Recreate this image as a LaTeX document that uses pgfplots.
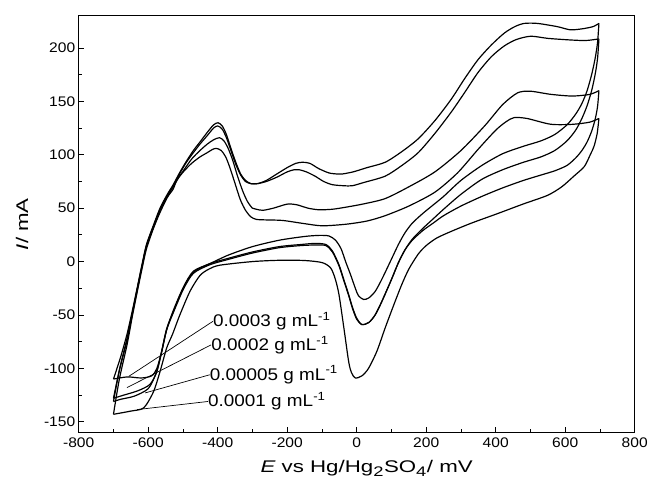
\documentclass[border=0pt]{standalone}
\usepackage{fontspec}
\setmainfont{Liberation Sans}[FakeStretch=1.12]
\newfontfamily\labelfont{Liberation Sans}[FakeStretch=1.32]
\usepackage{pgfplots}
\pgfplotsset{compat=1.18}
\usetikzlibrary{calc}

\begin{document}
\begin{tikzpicture}
\begin{axis}[
  scale only axis, width=558bp, height=418bp,
  xmin=-800, xmax=800, ymin=-160, ymax=230,
  xtick={-800,-600,...,800}, ytick={-150,-100,...,200},
  minor x tick num=1, minor y tick num=1,
  xtick pos=lower, ytick pos=left, tick align=inside,
  major tick length=5bp, minor tick length=3bp,
  axis line style={line width=1.1pt}, every tick/.style={line width=0.9pt, black},
  tick label style={font=\fontsize{14}{16}\selectfont},
  xticklabel style={yshift=-2bp},
  /pgf/number format/assume math mode=true,
  /pgf/number format/1000 sep={},
  xlabel={\labelfont\fontsize{17}{20}\selectfont{\itshape E} vs Hg/Hg\textsubscript{\fontsize{14}{14}\selectfont 2}SO\textsubscript{\fontsize{14}{14}\selectfont 4}/ mV},
  ylabel={\labelfont\fontsize{17}{20}\selectfont{\itshape I}/ mA},
  xlabel style={yshift=-6bp, xshift=10bp}, ylabel style={yshift=9bp},
  cycle list={{black, solid}},
  every axis plot/.append style={line width=1.2pt, smooth, tension=0.45, no marks},
]
% curve A: upper, lower branch
\addplot coordinates {(-700,-110) (-680,-90) (-661,-68) (-645,-45) (-632,-25) (-618,-3) (-605,16) (-585,34) (-566,50) (-545,63) (-528,72) (-510,83) (-490,94) (-470,104) (-451,112) (-430,121) (-412,128) (-399,130) (-387,127) (-375,119) (-362,106) (-348,93) (-334,82) (-320,76) (-305,73) (-285,73) (-260,76) (-230,82) (-200,88) (-175,92) (-156,93) (-135,92) (-109,87) (-80,83) (-56,82) (-42,82) (-10,84) (30,88) (82,93) (130,103) (177,115) (225,132) (272,152) (310,171) (349,189) (388,203) (425,214) (455,220) (482,223) (520,223) (577,220) (615,217) (650,218) (680,220) (697,223)};
\addplot coordinates {(697,223) (693,205) (686,190) (676,175) (663,160) (648,148) (630,138) (605,128) (570,119) (530,113) (480,108) (420,101) (360,90) (300,76) (250,61) (220,53) (190,45) (160,36) (139,27) (120,16) (101,3) (85,-8) (70,-18) (53,-28) (35,-34) (20,-35.5) (5,-32) (-4,-25) (-18,-12) (-32,0) (-45,12) (-61,20) (-80,24) (-109,24.5) (-150,23.5) (-223,20) (-300,14) (-370,6) (-423,-2) (-470,-9) (-499,-24) (-528,-46) (-547,-64) (-562,-85) (-575,-100) (-590,-107) (-620,-109) (-660,-108) (-700,-110)};
% curve B
\addplot coordinates {(-700,-128) (-682,-100) (-661,-72) (-645,-47) (-632,-26) (-618,-4) (-605,15) (-585,33) (-566,49) (-545,62) (-528,71) (-510,82) (-490,93) (-470,102) (-451,110) (-430,118) (-412,125) (-400,127) (-387,124) (-375,116) (-362,104) (-348,91) (-334,81) (-320,75) (-305,73) (-285,73) (-260,75) (-230,79) (-200,84) (-180,86) (-166,86) (-145,84) (-120,80) (-95,75) (-70,72) (-37,71) (-13,71) (20,74) (82,80) (130,90) (177,102) (225,120) (272,140) (310,158) (349,177) (388,192) (425,202) (460,208) (501,211) (550,209) (615,207.5) (660,207) (697,208.5)};
\addplot coordinates {(697,208.5) (693,190) (686,175) (676,160) (663,146) (648,134) (630,123) (605,113) (570,104) (530,98) (480,93) (420,86) (360,77) (300,63) (250,49) (220,40) (190,31) (160,21) (139,11) (120,-1) (101,-16) (85,-28) (70,-39) (53,-50) (35,-57) (15,-59) (0,-53) (-12,-43) (-23,-31) (-37,-17) (-51,-3) (-70,10) (-89,16) (-120,17) (-160,16) (-223,14) (-300,9) (-370,3) (-423,-2) (-470,-10) (-499,-25) (-528,-47) (-547,-63) (-562,-85) (-575,-103) (-595,-115) (-630,-121) (-670,-125) (-700,-128)};
% curve C
\addplot coordinates {(-700,-131) (-683,-102) (-661,-74) (-645,-48) (-632,-27) (-618,-5) (-605,14) (-585,32) (-566,48) (-545,61) (-528,70) (-510,80) (-499,85) (-475,96) (-451,104) (-430,110) (-412,114) (-395,116) (-382,113) (-370,106) (-357,95) (-343,80) (-328,66) (-314,56) (-300,50) (-289,49) (-270,48) (-240,50) (-210,53) (-194,54) (-170,53) (-140,50) (-109,48.5) (-70,49) (-30,51) (20,54) (82,59) (150,70) (225,84) (300,104) (368,127) (420,147) (463,158) (500,159.5) (558,156.6) (620,155) (670,156.5) (697,160)};
\addplot coordinates {(697,160) (693,145) (686,133) (676,122) (663,112) (648,104) (630,97) (605,90) (570,85) (530,81) (480,76) (420,69) (360,61) (300,52) (250,43) (220,36) (190,29) (160,20) (139,11) (120,-1) (101,-16) (85,-28) (70,-39) (53,-50) (35,-57) (15,-59) (0,-54) (-12,-44) (-23,-32) (-37,-18) (-51,-4) (-70,9) (-89,15) (-120,15.5) (-160,15) (-223,13) (-300,8) (-370,2) (-423,-3) (-470,-11) (-499,-26) (-528,-48) (-547,-64) (-562,-86) (-578,-105) (-600,-119) (-640,-126) (-680,-129) (-700,-131)};
% curve D
\addplot coordinates {(-700,-143) (-683,-110) (-661,-78) (-645,-50) (-632,-29) (-618,-7) (-605,12) (-585,31) (-566,46) (-545,60) (-528,68) (-518,76) (-499,84) (-475,92) (-451,98) (-430,102) (-415,105) (-404,106) (-390,104) (-377,98) (-365,88) (-350,73) (-335,58) (-320,48) (-305,42) (-289,39.5) (-260,39) (-213,38.5) (-150,35.5) (-99,33.5) (-30,35) (30,38) (82,43) (150,52) (225,65) (290,83) (349,105) (400,123) (430,131) (453,134.8) (490,134) (558,128.6) (620,128.5) (670,130.5) (697,134)};
\addplot coordinates {(697,134) (692,120) (683,108) (672,100) (655,89) (625,80) (590,70) (549,62) (480,54) (406,45) (330,36) (270,28) (230,22) (200,15) (177,7) (150,-7) (129,-22) (105,-42) (82,-62) (58,-84) (34,-100) (15,-107) (-4,-109) (-15,-104) (-23,-94) (-37,-62) (-51,-31) (-62,-16) (-75,-6) (-99,-1) (-150,1) (-223,1.2) (-300,0) (-394,-3.4) (-425,-7) (-451,-13) (-480,-28) (-509,-50) (-530,-68) (-547,-81) (-566,-103) (-585,-122) (-613,-137) (-650,-140) (-700,-143)};

% labels
\begin{scope}[line width=0.7pt]
\draw (axis cs:-414,-56) -- (axis cs:-656,-107.5);
\draw (axis cs:-419,-78) -- (axis cs:-661,-118);
\draw (axis cs:-423,-106) -- (axis cs:-609,-123);
\draw (axis cs:-428,-131) -- (axis cs:-632,-138.6);
\end{scope}
\begin{scope}[every node/.style={anchor=west, inner sep=0pt, font=\fontsize{17}{19}\selectfont}]
\node at (axis cs:-414,-56) {0.0003 g mL\textsuperscript{-1}};
\node at (axis cs:-419,-78) {0.0002 g mL\textsuperscript{-1}};
\node at (axis cs:-423,-106) {0.00005 g mL\textsuperscript{-1}};
\node at (axis cs:-428,-131) {0.0001 g mL\textsuperscript{-1}};
\end{scope}
\end{axis}
\path ($(current axis.south west)+(-79bp,-54bp)$) rectangle ($(current axis.north east)+(14bp,16bp)$);
\end{tikzpicture}
\end{document}
